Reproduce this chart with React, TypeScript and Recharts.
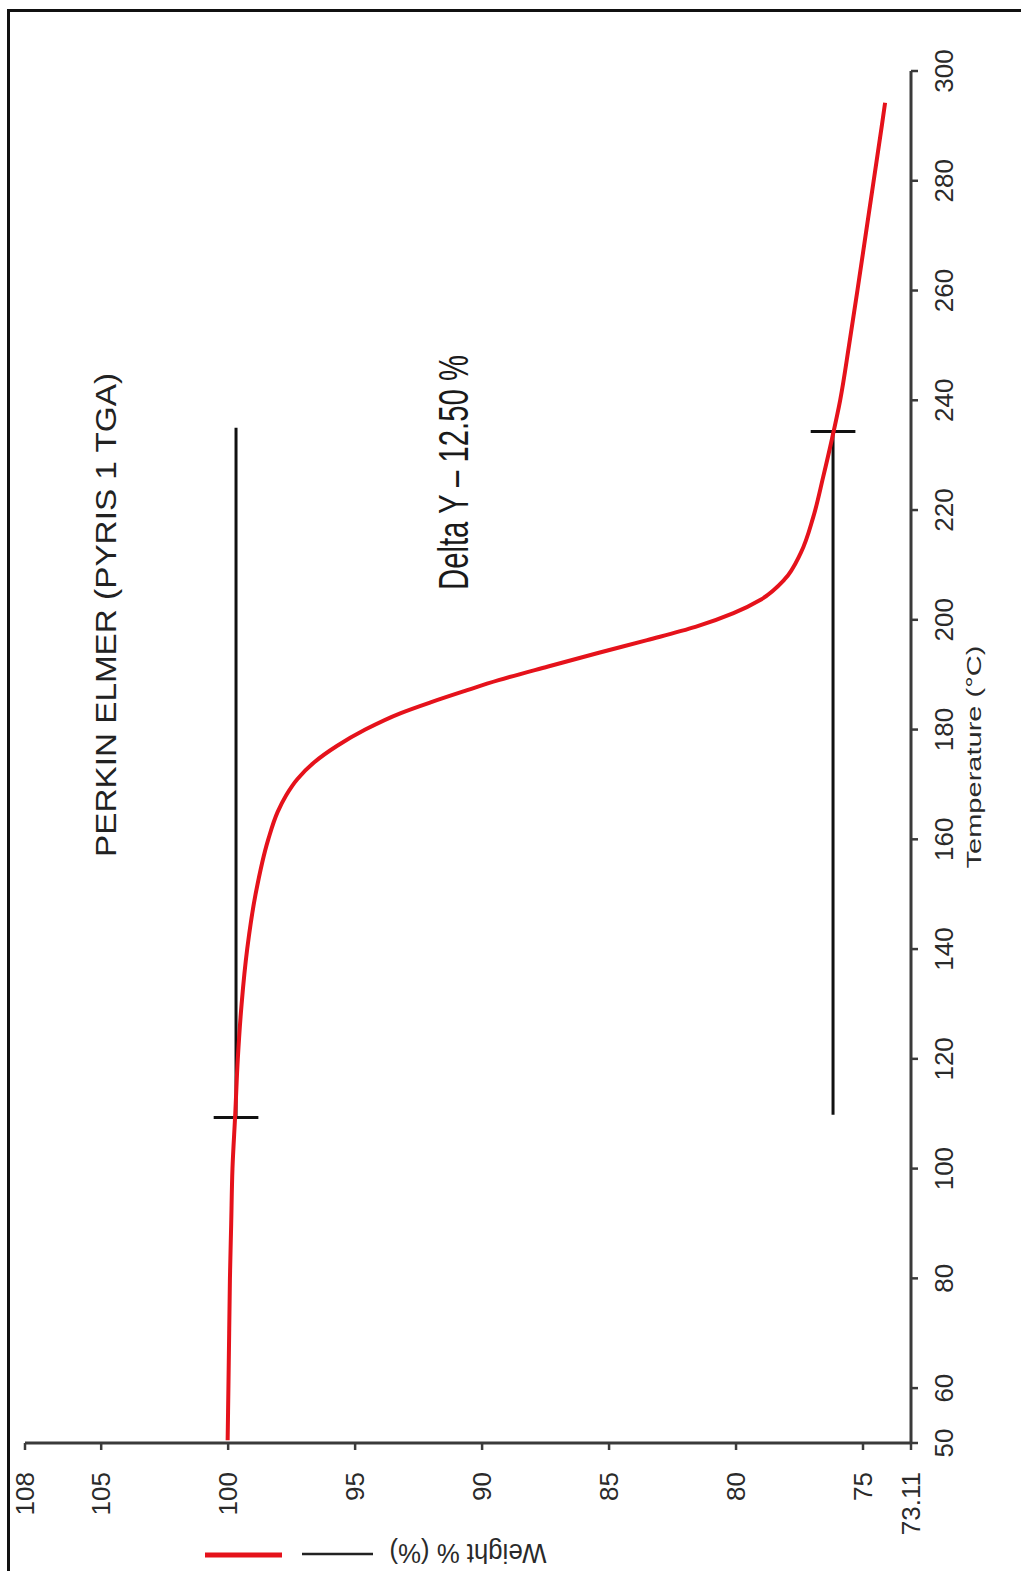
import React from 'react';
import { LineChart, Line, XAxis, YAxis, ReferenceLine } from 'recharts';

// TGA run: sample temperature (°C) and remaining weight (%)
const temperature = [
  50.5, 60, 70, 80, 90, 100, 110, 120, 130, 140, 150, 160, 165, 168, 171, 174, 177,
  180, 183, 185, 187, 189, 191.5, 194, 196.3, 198.7, 201.2, 203.6, 207.3, 212.2,
  218.7, 226, 233, 240, 250, 260, 270, 280, 290, 294.2,
];
const weight = [
  100.02, 99.99, 99.96, 99.93, 99.88, 99.83, 99.72, 99.62, 99.47, 99.25, 98.92, 98.42,
  98.05, 97.72, 97.27, 96.62, 95.72, 94.6, 93.2, 92.0, 90.7, 89.35, 87.4, 85.4, 83.5,
  81.6, 80.1, 79.05, 78.1, 77.45, 76.96, 76.57, 76.22, 75.9, 75.55, 75.22, 74.9,
  74.58, 74.26, 74.13,
];

const temperatureTicks = [50, 60, 80, 100, 120, 140, 160, 180, 200, 220, 240, 260, 280, 300];
const weightTicks = [73.11, 75, 80, 85, 90, 95, 100, 105, 108];

// Delta Y step markers (weight levels and temperature span)
const deltaLevels = [99.69, 76.18];
const deltaSpan = [[109.3, 235], [109.8, 234.3]];
const deltaTickAt = [109.3, 234.3];
const deltaTickHalf = 0.88;

const series = temperature.map((t, i) => ({ t, w: weight[i] }));

const FONT = '"Liberation Sans", Arial, sans-serif';
const RED = '#e5121b';
const AXIS = '#3a3a3a';

// Drawn in landscape, then turned a quarter-turn counter-clockwise on the page
const W = 1571;
const H = 1021;

export default function App() {
  return (
    <div
      style={{
        position: 'absolute',
        left: 0,
        top: 0,
        width: H,
        height: W,
        overflow: 'hidden',
        background: '#fff',
      }}
    >
      <div
        style={{
          position: 'absolute',
          left: 7,
          top: 9,
          width: 1030,
          height: 1580,
          borderTop: '3px solid #111',
          borderLeft: '3px solid #111',
        }}
      />
      <div
        style={{
          position: 'absolute',
          left: 0,
          top: 0,
          width: W,
          height: H,
          transformOrigin: '0 0',
          transform: `translate(0px, ${W}px) rotate(-90deg)`,
        }}
      >
        <LineChart
          width={W}
          height={H}
          data={series}
          margin={{ top: 25, right: 71, bottom: 20, left: 28 }}
          style={{ fontFamily: FONT }}
        >
          <XAxis
            dataKey="t"
            type="number"
            domain={[50, 300]}
            ticks={temperatureTicks}
            interval={0}
            allowDataOverflow
            height={90}
            axisLine={{ stroke: AXIS, strokeWidth: 3 }}
            tickLine={{ stroke: AXIS, strokeWidth: 2.5 }}
            tickSize={7}
            tickMargin={17}
            tick={{ fill: '#2a2a2a', fontSize: 26, fontFamily: FONT }}
          />
          <YAxis
            type="number"
            domain={[73.11, 108]}
            ticks={weightTicks}
            interval={0}
            allowDataOverflow
            width={100}
            axisLine={{ stroke: AXIS, strokeWidth: 3 }}
            tickLine={{ stroke: AXIS, strokeWidth: 2.5 }}
            tickSize={7}
            tickMargin={22}
            tick={{ fill: '#2a2a2a', fontSize: 26, fontFamily: FONT }}
          />
          {deltaLevels.map((lvl, i) => (
            <ReferenceLine
              key={`lvl-${i}`}
              segment={[
                { x: deltaSpan[i][0], y: lvl },
                { x: deltaSpan[i][1], y: lvl },
              ]}
              stroke="#111"
              strokeWidth={3}
              ifOverflow="visible"
            />
          ))}
          {deltaLevels.map((lvl, i) => (
            <ReferenceLine
              key={`tick-${i}`}
              segment={[
                { x: deltaTickAt[i], y: lvl + deltaTickHalf },
                { x: deltaTickAt[i], y: lvl - deltaTickHalf },
              ]}
              stroke="#111"
              strokeWidth={3}
              ifOverflow="visible"
            />
          ))}
          <Line
            type="monotone"
            dataKey="w"
            stroke={RED}
            strokeWidth={4}
            dot={false}
            isAnimationActive={false}
          />
        </LineChart>
        <svg
          width={W}
          height={H}
          style={{ position: 'absolute', left: 0, top: 0, pointerEvents: 'none' }}
        >
          <text
            x={714}
            y={116}
            fontSize={30}
            fontFamily={FONT}
            fill="#222"
            textLength={484}
            lengthAdjust="spacingAndGlyphs"
          >
            PERKIN ELMER (PYRIS 1 TGA)
          </text>
          <text
            x={981}
            y={468}
            fontSize={43}
            fontFamily={FONT}
            fill="#1a1a1a"
            textLength={235}
            lengthAdjust="spacingAndGlyphs"
          >
            Delta Y – 12.50 %
          </text>
          <text
            x={814}
            y={981}
            fontSize={21}
            fontFamily={FONT}
            fill="#2a2a2a"
            textAnchor="middle"
            textLength={223}
            lengthAdjust="spacingAndGlyphs"
          >
            Temperature (°C)
          </text>
          <text
            transform="translate(27,468) rotate(-90)"
            fontSize={28}
            fontFamily={FONT}
            fill="#2a2a2a"
            textAnchor="middle"
            textLength={157}
            lengthAdjust="spacingAndGlyphs"
          >
            Weight % (%)
          </text>
          <line x1={16} x2={16} y1={205} y2={282} stroke={RED} strokeWidth={5} />
          <line x1={17} x2={17} y1={302} y2={373} stroke="#222" strokeWidth={2.5} />
        </svg>
      </div>
    </div>
  );
}
